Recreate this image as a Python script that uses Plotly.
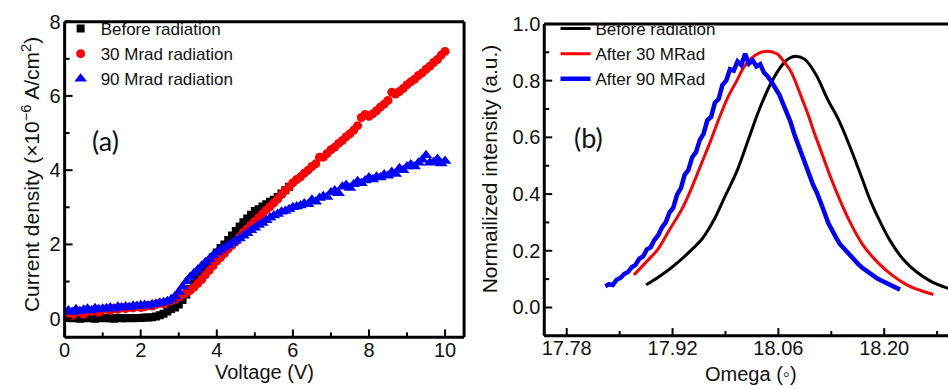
import numpy as np
import plotly.graph_objects as go

# ---------------- (a) current density vs voltage ----------------
# voltage sweep in 0.1 V steps
voltage = np.round(np.arange(1, 101) * 0.1, 1)

# Before radiation (0.1 ... 5.9 V)
j_before = [
    0.02, 0.01, 0.02, 0.00, 0.01, 0.02, 0.01, 0.00, 0.01, 0.02,
    0.01, 0.01, 0.00, 0.02, 0.01, 0.01, 0.02, 0.01, 0.02, 0.02,
    0.03, 0.03, 0.04, 0.06, 0.09, 0.13, 0.19, 0.26, 0.30, 0.38,
    0.50, 0.65, 0.80, 0.95, 1.10, 1.25, 1.40, 1.53, 1.66, 1.78,
    1.90, 2.00, 2.12, 2.24, 2.36, 2.48, 2.60, 2.70, 2.80, 2.90,
    2.95, 3.02, 3.08, 3.15, 3.20, 3.28, 3.37, 3.46, 3.55,
]

# 30 Mrad radiation (0.1 ... 10.0 V)
j_30 = [
    0.15, 0.08, 0.18, 0.20, 0.12, 0.22, 0.19, 0.25, 0.17, 0.24,
    0.26, 0.22, 0.28, 0.25, 0.30, 0.27, 0.31, 0.29, 0.33, 0.30,
    0.32, 0.36, 0.34, 0.38, 0.42, 0.40, 0.45, 0.48, 0.52, 0.58,
    0.64, 0.70, 0.76, 0.85, 0.95, 1.05, 1.18, 1.30, 1.42, 1.55,
    1.65, 1.76, 1.88, 1.98, 2.08, 2.20, 2.32, 2.42, 2.52, 2.62,
    2.72, 2.82, 2.93, 3.02, 3.12, 3.22, 3.34, 3.45, 3.55, 3.66,
    3.75, 3.82, 3.92, 4.00, 4.10, 4.17, 4.35, 4.35, 4.45, 4.55,
    4.62, 4.72, 4.80, 4.90, 4.98, 5.08, 5.20, 5.42, 5.50, 5.45,
    5.52, 5.60, 5.70, 5.78, 5.88, 6.10, 6.05, 6.12, 6.20, 6.30,
    6.38, 6.45, 6.55, 6.62, 6.72, 6.80, 6.90, 6.98, 7.10, 7.20,
]

# 90 Mrad radiation (0.1 ... 10.0 V)
j_90 = [
    0.22, 0.18, 0.25, 0.20, 0.24, 0.27, 0.22, 0.28, 0.25, 0.27,
    0.28, 0.30, 0.27, 0.32, 0.30, 0.33, 0.31, 0.35, 0.34, 0.36,
    0.37, 0.35, 0.39, 0.40, 0.42, 0.44, 0.47, 0.52, 0.60, 0.72,
    0.86, 1.00, 1.12, 1.22, 1.32, 1.42, 1.52, 1.60, 1.70, 1.78,
    1.85, 1.92, 1.98, 2.04, 2.10, 2.16, 2.23, 2.30, 2.38, 2.45,
    2.52, 2.58, 2.65, 2.72, 2.78, 2.82, 2.88, 2.90, 2.95, 3.00,
    3.02, 3.05, 3.10, 3.08, 3.20, 3.15, 3.25, 3.30, 3.28, 3.40,
    3.45, 3.38, 3.55, 3.60, 3.52, 3.62, 3.70, 3.65, 3.72, 3.80,
    3.75, 3.82, 3.80, 3.88, 3.85, 3.95, 3.90, 4.05, 4.00, 4.10,
    4.15, 4.10, 4.20, 4.28, 4.40, 4.20, 4.22, 4.30, 4.18, 4.25,
]

# ---------------- (b) rocking curves ----------------
omega_before = [
    17.885, 17.900, 17.915, 17.930, 17.945, 17.960, 17.975, 17.990,
    18.005, 18.020, 18.035, 18.050, 18.065, 18.075, 18.083, 18.095,
    18.110, 18.125, 18.140, 18.155, 18.170, 18.182, 18.195, 18.208,
    18.225, 18.243, 18.260, 18.283, 18.300,
]
int_before = [
    0.080, 0.105, 0.133, 0.166, 0.203, 0.245, 0.310, 0.395,
    0.480, 0.590, 0.700, 0.790, 0.855, 0.880, 0.886, 0.875,
    0.820, 0.735, 0.660, 0.565, 0.460, 0.375, 0.300, 0.235,
    0.170, 0.125, 0.095, 0.069, 0.055,
]

omega_30 = [
    17.869, 17.885, 17.901, 17.915, 17.932, 17.945, 17.958, 17.970,
    17.980, 17.993, 18.005, 18.015, 18.025, 18.035, 18.046, 18.058,
    18.068, 18.077, 18.090, 18.100, 18.107, 18.118, 18.129, 18.142,
    18.155, 18.172, 18.191, 18.210, 18.230, 18.248, 18.265,
]
int_30 = [
    0.115, 0.160, 0.207, 0.270, 0.345, 0.420, 0.506, 0.585,
    0.656, 0.740, 0.800, 0.850, 0.880, 0.898, 0.904, 0.895,
    0.865, 0.830, 0.745, 0.675, 0.620, 0.540, 0.460, 0.375,
    0.300, 0.220, 0.160, 0.115, 0.080, 0.060, 0.046,
]

omega_90 = [
    17.831, 17.836, 17.841, 17.846, 17.851, 17.856, 17.861, 17.866,
    17.871, 17.876, 17.881, 17.886, 17.891, 17.896, 17.901, 17.906,
    17.911, 17.916, 17.921, 17.926, 17.931, 17.936, 17.941, 17.946,
    17.951, 17.956, 17.961, 17.966, 17.971, 17.976, 17.981, 17.986,
    17.991, 17.996, 18.001, 18.006, 18.011, 18.016, 18.021, 18.026,
    18.031, 18.036, 18.041, 18.046, 18.051, 18.056, 18.061, 18.066,
    18.071, 18.076, 18.081, 18.086, 18.091, 18.096, 18.101, 18.106,
    18.111, 18.116, 18.121, 18.126, 18.131, 18.136, 18.141, 18.146,
    18.151, 18.156, 18.161, 18.166, 18.171, 18.176, 18.181, 18.186,
    18.191, 18.196, 18.201, 18.206, 18.211, 18.216, 18.221,
]
int_90 = [
    0.075, 0.082, 0.079, 0.098, 0.104, 0.118, 0.125, 0.142,
    0.150, 0.172, 0.180, 0.205, 0.212, 0.238, 0.255, 0.282,
    0.300, 0.335, 0.352, 0.398, 0.420, 0.468, 0.485, 0.530,
    0.548, 0.590, 0.612, 0.660, 0.672, 0.722, 0.735, 0.785,
    0.800, 0.840, 0.835, 0.868, 0.855, 0.895, 0.860, 0.872,
    0.850, 0.858, 0.828, 0.815, 0.795, 0.775, 0.752, 0.720,
    0.690, 0.655, 0.612, 0.575, 0.545, 0.505, 0.470, 0.432,
    0.405, 0.365, 0.335, 0.298, 0.270, 0.248, 0.225, 0.210,
    0.195, 0.178, 0.168, 0.152, 0.140, 0.130, 0.118, 0.112,
    0.102, 0.095, 0.088, 0.082, 0.076, 0.070, 0.063,
]

# tick values of both panels
major_v = [0, 2, 4, 6, 8, 10]
minor_v = [1, 3, 5, 7, 9]
major_j = [0, 2, 4, 6, 8]
minor_j = [-0.5, 1, 3, 5, 7]
major_omega = [17.78, 17.92, 18.06, 18.20]
minor_omega = [17.85, 17.99, 18.13, 18.27]
major_int = [0.0, 0.2, 0.4, 0.6, 0.8, 1.0]
minor_int = [-0.1, 0.1, 0.3, 0.5, 0.7, 0.9]

BLACK, RED, BLUE = "#000000", "#ff0000", "#0000ff"
FONT = "Liberation Sans, Arial, sans-serif"
TXT = "#111111"
CLEAR = "rgba(0,0,0,0)"
W, H = 948, 389

# plot-area boxes in page pixels (left, right, top, bottom) and axis ranges
BOX_A = (59, 461, 11, 335.7)
BOX_B = (541.7, 948, 13.3, 334.3)
XR_A, YR_A = (0, 10.5), (-0.5, 8)
XR_B, YR_B = (17.7503, 18.2844), (-0.1, 1.0)


def to_px(box, xr, yr):
    l, r, t, b = box
    fx = lambda v: l + (v - xr[0]) / (xr[1] - xr[0]) * (r - l)
    fy = lambda v: b - (v - yr[0]) / (yr[1] - yr[0]) * (b - t)
    return fx, fy


fig = go.Figure()

# (a) scatter series
fig.add_trace(go.Scatter(
    x=voltage[:len(j_before)], y=j_before, mode="markers", name="Before radiation",
    marker=dict(symbol="square", size=8, color=BLACK), xaxis="x", yaxis="y", legend="legend"))
fig.add_trace(go.Scatter(
    x=voltage, y=j_30, mode="markers", name="30 Mrad radiation",
    marker=dict(symbol="circle", size=9, color=RED), xaxis="x", yaxis="y", legend="legend"))
fig.add_trace(go.Scatter(
    x=voltage, y=j_90, mode="markers", name="90 Mrad radiation",
    marker=dict(symbol="triangle-up", size=11, color=BLUE), xaxis="x", yaxis="y", legend="legend"))

# (b) rocking curves
fig.add_trace(go.Scatter(
    x=omega_before, y=int_before, mode="lines", name="Before radiation",
    line=dict(color=BLACK, width=3, shape="spline"), xaxis="x2", yaxis="y2", legend="legend2"))
fig.add_trace(go.Scatter(
    x=omega_30, y=int_30, mode="lines", name="After 30 MRad",
    line=dict(color=RED, width=3, shape="spline"), xaxis="x2", yaxis="y2", legend="legend2"))
fig.add_trace(go.Scatter(
    x=omega_90, y=int_90, mode="lines", name="After 90 MRad",
    line=dict(color=BLUE, width=4.5), xaxis="x2", yaxis="y2", legend="legend2"))


# frames and inward ticks, drawn on a page-pixel overlay
def frame_and_ticks(box, xr, yr, xmaj, xmin, ymaj, ymin, right_side):
    l, r, t, b = box
    fx, fy = to_px(box, xr, yr)
    fx_ = [l, r, None, l, l, None, l, r, None]
    fy_ = [b, b, None, b, t, None, t, t, None]
    if right_side:
        fx_ += [r, r, None]
        fy_ += [t, b, None]
    tx, ty = [], []
    for vals, ln in ((xmaj, 8), (xmin, 5)):
        for v in vals:
            tx += [fx(v), fx(v), None]
            ty += [b, b - ln, None]
    for vals, ln in ((ymaj, 8), (ymin, 5)):
        for v in vals:
            tx += [l, l + ln, None]
            ty += [fy(v), fy(v), None]
    fig.add_trace(go.Scatter(x=fx_, y=fy_, mode="lines", line=dict(color=BLACK, width=3),
                             xaxis="x3", yaxis="y3", showlegend=False, hoverinfo="skip",
                             cliponaxis=False))
    fig.add_trace(go.Scatter(x=tx, y=ty, mode="lines", line=dict(color=BLACK, width=2),
                             xaxis="x3", yaxis="y3", showlegend=False, hoverinfo="skip",
                             cliponaxis=False))


frame_and_ticks(BOX_A, XR_A, YR_A, major_v, minor_v, major_j, minor_j, True)
frame_and_ticks(BOX_B, XR_B, YR_B, major_omega, minor_omega, major_int, minor_int, False)

axis_style = dict(
    showline=False, showgrid=False, zeroline=False, ticks="",
    tickfont=dict(family=FONT, size=20, color=TXT),
)

fig.update_layout(
    width=W, height=H,
    margin=dict(l=0, r=0, t=0, b=0),
    paper_bgcolor="white", plot_bgcolor=CLEAR,
    font=dict(family=FONT, color=TXT),
    xaxis=dict(**axis_style, domain=[BOX_A[0] / W, BOX_A[1] / W], range=list(XR_A),
               tickvals=major_v, anchor="y", ticklabelstandoff=-1),
    yaxis=dict(**axis_style, domain=[(H - BOX_A[3]) / H, (H - BOX_A[2]) / H], range=list(YR_A),
               tickvals=major_j, anchor="x", ticklabelstandoff=3),
    xaxis2=dict(**axis_style, domain=[BOX_B[0] / W, BOX_B[1] / W], range=list(XR_B),
                tickvals=major_omega, tickformat=".2f", anchor="y2", ticklabelstandoff=-2),
    yaxis2=dict(**axis_style, domain=[(H - BOX_B[3]) / H, (H - BOX_B[2]) / H], range=list(YR_B),
                tickvals=major_int, tickformat=".1f", anchor="x2", ticklabelstandoff=3),
    xaxis3=dict(domain=[0, 1], range=[0, W], visible=False, fixedrange=True, anchor="y3"),
    yaxis3=dict(domain=[0, 1], range=[H, 0], visible=False, fixedrange=True, anchor="x3"),
    legend=dict(x=55 / W, y=1.0, xanchor="left", yanchor="top",
                bgcolor=CLEAR, font=dict(family=FONT, size=17, color=TXT),
                tracegroupgap=0),
    legend2=dict(x=553 / W, y=1.0, xanchor="left", yanchor="top",
                 bgcolor=CLEAR, font=dict(family=FONT, size=17, color=TXT),
                 tracegroupgap=0),
)

fig.update_layout(annotations=[
    dict(text="Voltage (V)", x=(59 + 461) / 2 / W, y=(H - 371) / H, xref="paper", yref="paper",
         showarrow=False, xanchor="center", yanchor="middle",
         font=dict(family=FONT, size=20, color=TXT)),
    dict(text="Current density (\u00d710<sup>\u22126</sup> A/cm<sup>2</sup>)",
         x=25 / W, y=(H - 168) / H, xref="paper", yref="paper", textangle=-90,
         showarrow=False, xanchor="center", yanchor="middle",
         font=dict(family=FONT, size=21, color=TXT)),
    dict(text="Omega (\u25e6)", x=750 / W, y=(H - 374) / H, xref="paper", yref="paper",
         showarrow=False, xanchor="center", yanchor="middle",
         font=dict(family=FONT, size=20, color=TXT)),
    dict(text="Normailized intensity (a.u.)",
         x=487 / W, y=(H - 162) / H, xref="paper", yref="paper", textangle=-90,
         showarrow=False, xanchor="center", yanchor="middle",
         font=dict(family=FONT, size=21, color=TXT)),
    dict(text="(a)", x=100 / W, y=(H - 133) / H, xref="paper", yref="paper",
         showarrow=False, xanchor="center", yanchor="middle",
         font=dict(family="Lato, Open Sans, sans-serif", size=27, color=TXT)),
    dict(text="(b)", x=586 / W, y=(H - 130) / H, xref="paper", yref="paper",
         showarrow=False, xanchor="center", yanchor="middle",
         font=dict(family="Lato, Open Sans, sans-serif", size=27, color=TXT)),
])

fig.write_html("out.html")
